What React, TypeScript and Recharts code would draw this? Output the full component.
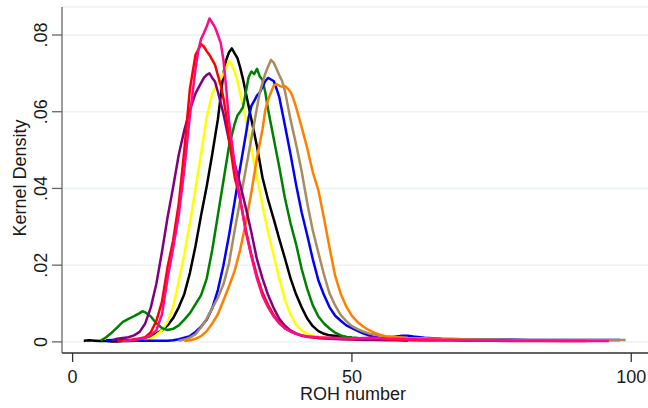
import React from 'react';
import { LineChart, Line, XAxis, YAxis, CartesianGrid } from 'recharts';

// ROH number (x) vs kernel density (y), one list per group
const redDensity: [number, number][] = [[8,.0002],[9,.0003],[10,.0004],[11,.0007],[12,.0009],[13,.0012],[14,.0025],[15,.0055],[16,.0105],[17,.0195],[18,.0265],[19,.0360],[20,.0500],[21,.0660],[22,.0748],[22.5,.0762],[23,.0776],[23.5,.0770],[24,.0758],[24.5,.0748],[25,.0735],[25.5,.0722],[26,.0695],[26.5,.0670],[27,.0635],[27.5,.0590],[28,.0530],[29,.0430],[30,.0372],[31,.0292],[32,.0228],[33,.0172],[34,.0128],[35,.0096],[36,.0070],[37,.0050],[38,.0035],[39,.0027],[40,.0021],[41,.0016],[42,.0013],[43,.0012],[44,.0010],[46,.0009],[48,.0008],[50,.0007],[52,.0009],[54,.0008],[56,.0007],[58,.0006],[60,.0005],[64,.0004],[68,.0004],[72,.0003],[76,.0003],[80,.0002],[86,.0002],[92,.0002]];

const pinkDensity: [number, number][] = [[9,.0002],[10,.0003],[11,.0005],[12,.0008],[13,.0010],[14,.0018],[15,.0030],[16,.0072],[17,.0165],[18,.0245],[19,.0330],[20,.0450],[21,.0590],[22,.0712],[22.5,.0760],[23,.0790],[23.5,.0805],[24,.0822],[24.5,.0843],[25,.0832],[25.5,.0820],[26,.0800],[26.5,.0780],[27,.0735],[27.5,.0660],[28,.0575],[28.5,.0520],[29,.0465],[30,.0370],[31,.0288],[32,.0222],[33,.0165],[34,.0120],[35,.0090],[36,.0066],[37,.0048],[38,.0036],[39,.0028],[40,.0021],[41,.0017],[42,.0014],[44,.0012],[46,.0011],[48,.0010],[50,.0009],[52,.0010],[54,.0011],[56,.0009],[58,.0008],[60,.0007],[64,.0006],[68,.0005],[72,.0004],[76,.0004],[80,.0003],[84,.0003],[88,.0002],[92,.0002],[96,.0002]];

const purpleDensity: [number, number][] = [[7,.0004],[8,.0008],[9,.0010],[10,.0012],[11,.0017],[12,.0026],[13,.0048],[14,.0090],[15,.0152],[16,.0235],[17,.0325],[18,.0404],[19,.0488],[20,.0552],[21,.0605],[22,.0648],[23,.0675],[23.5,.0688],[24,.0696],[24.5,.0700],[25,.0688],[25.5,.0678],[26,.0652],[27,.0595],[28,.0525],[29,.0465],[30,.0410],[31,.0350],[32,.0285],[33,.0215],[34,.0165],[35,.0122],[36,.0088],[37,.0060],[38,.0042],[39,.0030],[40,.0022],[41,.0017],[42,.0014],[43,.0012],[44,.0010],[46,.0008],[48,.0007],[50,.0006],[52,.0005],[54,.0005],[56,.0004],[58,.0004],[60,.0003]];

const yellowDensity: [number, number][] = [[12,.0002],[13,.0005],[14,.0009],[15,.0018],[16,.0030],[17,.0052],[18,.0092],[19,.0158],[20,.0228],[21,.0310],[22,.0400],[23,.0490],[24,.0585],[25,.0648],[26,.0676],[26.5,.0685],[27,.0700],[27.5,.0715],[28,.0733],[28.5,.0722],[29,.0705],[29.5,.0680],[30,.0648],[31,.0580],[32,.0505],[33,.0430],[34,.0355],[35,.0285],[36,.0225],[37,.0165],[38,.0110],[39,.0072],[40,.0045],[41,.0030],[42,.0021],[43,.0016],[44,.0013],[46,.0010],[48,.0008],[50,.0007],[54,.0006],[58,.0005],[62,.0004],[66,.0003],[70,.0003]];

const blackDensity: [number, number][] = [[2,.0003],[3,.0004],[4,.0003],[5,.0002],[6,.0002],[7,.0001],[8,.0001],[9,.0002],[10,.0002],[11,.0003],[12,.0005],[13,.0009],[14,.0015],[15,.0022],[16,.0030],[17,.0043],[18,.0062],[19,.0090],[20,.0125],[21,.0180],[22,.0250],[23,.0330],[24,.0405],[25,.0490],[26,.0580],[26.5,.0640],[27,.0700],[27.5,.0735],[28,.0755],[28.5,.0765],[29,.0752],[29.5,.0740],[30,.0715],[30.5,.0685],[31,.0650],[32,.0580],[33,.0510],[34,.0428],[35,.0370],[36,.0320],[37,.0268],[38,.0218],[39,.0166],[40,.0124],[41,.0090],[42,.0061],[43,.0041],[44,.0028],[45,.0021],[46,.0017],[48,.0014],[50,.0011],[52,.0009],[54,.0008],[58,.0006],[62,.0005],[66,.0004],[70,.0003],[74,.0003]];

const greenDensity: [number, number][] = [[5,.0003],[6,.0012],[7,.0024],[8,.0038],[9,.0052],[10,.0060],[11,.0067],[12,.0075],[12.5,.0080],[13,.0077],[14,.0066],[15,.0048],[16,.0036],[17,.0031],[18,.0034],[19,.0043],[20,.0058],[21,.0075],[22,.0098],[23,.0122],[24,.0165],[25,.0240],[26,.0330],[27,.0420],[28,.0510],[29,.0568],[29.5,.0590],[30,.0600],[30.5,.0612],[31,.0650],[31.5,.0690],[32,.0705],[32.5,.0698],[33,.0712],[33.5,.0692],[34,.0683],[34.5,.0650],[35,.0605],[36,.0530],[37,.0455],[38,.0375],[39,.0310],[40,.0255],[41,.0190],[42,.0138],[43,.0095],[44,.0066],[45,.0048],[46,.0035],[47,.0024],[48,.0017],[49,.0013],[50,.0011],[52,.0009],[54,.0008],[56,.0007],[60,.0005],[64,.0004],[68,.0004],[72,.0003],[76,.0003]];

const blueDensity: [number, number][] = [[6,.0004],[7,.0005],[8,.0005],[9,.0005],[10,.0004],[12,.0003],[14,.0003],[16,.0003],[17,.0003],[18,.0004],[19,.0007],[20,.0011],[21,.0015],[22,.0026],[23,.0040],[24,.0058],[25,.0088],[26,.0135],[27,.0200],[28,.0278],[29,.0365],[30,.0455],[31,.0540],[31.5,.0585],[32,.0615],[32.5,.0628],[33,.0642],[33.5,.0650],[34,.0665],[34.5,.0680],[35,.0688],[35.5,.0684],[36,.0680],[36.5,.0660],[37,.0638],[38,.0565],[39,.0490],[40,.0410],[41,.0338],[42,.0278],[43,.0215],[44,.0160],[45,.0122],[46,.0090],[47,.0068],[48,.0055],[49,.0043],[50,.0036],[51,.0029],[52,.0022],[53,.0017],[54,.0013],[55,.0010],[56,.0010],[57,.0012],[58,.0014],[59,.0016],[60,.0016],[61,.0014],[63,.0011],[66,.0008],[70,.0007],[74,.0006],[78,.0006],[82,.0005],[86,.0005],[90,.0005],[94,.0005],[98,.0005]];

const tanDensity: [number, number][] = [[19,.0003],[20,.0006],[21,.0011],[22,.0020],[23,.0038],[24,.0060],[25,.0088],[26,.0115],[27,.0150],[28,.0205],[29,.0290],[30,.0370],[31,.0450],[32,.0530],[33,.0610],[33.5,.0650],[34,.0675],[34.5,.0700],[35,.0718],[35.5,.0735],[36,.0728],[36.5,.0712],[37,.0695],[37.5,.0680],[38,.0655],[39,.0580],[40,.0515],[41,.0445],[42,.0362],[43,.0290],[44,.0232],[45,.0175],[46,.0126],[47,.0095],[48,.0070],[49,.0054],[50,.0041],[51,.0033],[52,.0027],[53,.0022],[54,.0019],[55,.0017],[56,.0014],[58,.0012],[60,.0010],[64,.0008],[68,.0007],[72,.0006],[76,.0006],[80,.0005],[84,.0005],[88,.0005],[92,.0005],[96,.0005],[99,.0005]];

const orangeDensity: [number, number][] = [[20,.0002],[21,.0004],[22,.0008],[23,.0015],[24,.0028],[25,.0048],[26,.0072],[27,.0108],[28,.0145],[29,.0185],[30,.0240],[31,.0310],[32,.0390],[33,.0480],[34,.0555],[34.5,.0605],[35,.0632],[35.5,.0650],[36,.0668],[36.5,.0672],[37,.0668],[37.5,.0665],[38,.0667],[38.5,.0660],[39,.0652],[39.5,.0635],[40,.0612],[41,.0560],[42,.0505],[43,.0442],[44,.0395],[45,.0322],[46,.0245],[47,.0172],[48,.0125],[49,.0092],[50,.0068],[51,.0052],[52,.0040],[53,.0031],[54,.0024],[55,.0019],[56,.0015],[58,.0012],[60,.0010],[64,.0008],[68,.0006],[72,.0005],[76,.0004],[80,.0003],[84,.0003]];

const xTicks = [0, 50, 100];
const yTicks = [0, 0.02, 0.04, 0.06, 0.08];
const yTickLabels = ['0', '.02', '.04', '.06', '.08'];

const FONT = '"Liberation Sans", Arial, Helvetica, sans-serif';

const seriesList = [
  { name: 'black', color: '#000000', points: blackDensity },
  { name: 'yellow', color: '#FFFF00', points: yellowDensity },
  { name: 'green', color: '#008000', points: greenDensity },
  { name: 'blue', color: '#0000FF', points: blueDensity },
  { name: 'tan', color: '#A68C5E', points: tanDensity },
  { name: 'orange', color: '#FF8000', points: orangeDensity },
  { name: 'purple', color: '#800080', points: purpleDensity },
  { name: 'red', color: '#FF0000', points: redDensity },
  { name: 'pink', color: '#FF0A8C', points: pinkDensity },
];

const YTick = (props: any) => {
  const { x, y, payload } = props;
  const i = yTicks.indexOf(payload.value);
  const label = i >= 0 ? yTickLabels[i] : String(payload.value);
  return (
    <text
      x={x}
      y={y}
      transform={`rotate(-90, ${x}, ${y})`}
      textAnchor="middle"
      fontSize={18}
      fontFamily={FONT}
      fill="#1a1a1a"
    >
      {label}
    </text>
  );
};

export default function App() {
  return (
    <div style={{ position: 'absolute', left: 0, top: 0, width: 648, height: 408, background: '#fff', fontFamily: FONT }}>
      <LineChart width={648} height={408} margin={{ top: 7, right: 0, bottom: 0, left: 0 }}>
        <CartesianGrid horizontal vertical={false} stroke="#EAF2F3" strokeWidth={1.5} />
        <XAxis
          type="number"
          dataKey="x"
          domain={[-1.9, 103]}
          ticks={xTicks}
          interval={0}
          allowDataOverflow
          height={55}
          tickSize={9}
          tickMargin={8}
          stroke="#333"
          strokeWidth={1.3}
          tick={{ fontSize: 18, fill: '#1a1a1a', fontFamily: FONT }}
          label={{
            content: () => (
              <text x={353} y={400} textAnchor="middle" fontSize={18} fontFamily={FONT} fill="#1a1a1a">
                ROH number
              </text>
            ),
          }}
        />
        <YAxis
          type="number"
          dataKey="y"
          domain={[-0.0029, 0.0873]}
          ticks={yTicks}
          interval={0}
          allowDataOverflow
          width={62}
          tickSize={10}
          tickMargin={5}
          stroke="#666"
          strokeWidth={1.3}
          tick={<YTick />}
          label={{
            content: () => (
              <text x={26} y={178} transform="rotate(-90, 26, 178)" textAnchor="middle" fontSize={18} fontFamily={FONT} fill="#1a1a1a">
                Kernel Density
              </text>
            ),
          }}
        />
        {seriesList.map((s) => (
          <Line
            key={s.name}
            data={s.points.map(([x, y]) => ({ x, y }))}
            dataKey="y"
            type="linear"
            stroke={s.color}
            strokeWidth={2.5}
            strokeLinejoin="round"
            dot={false}
            activeDot={false}
            isAnimationActive={false}
            connectNulls={false}
          />
        ))}
      </LineChart>
    </div>
  );
}
